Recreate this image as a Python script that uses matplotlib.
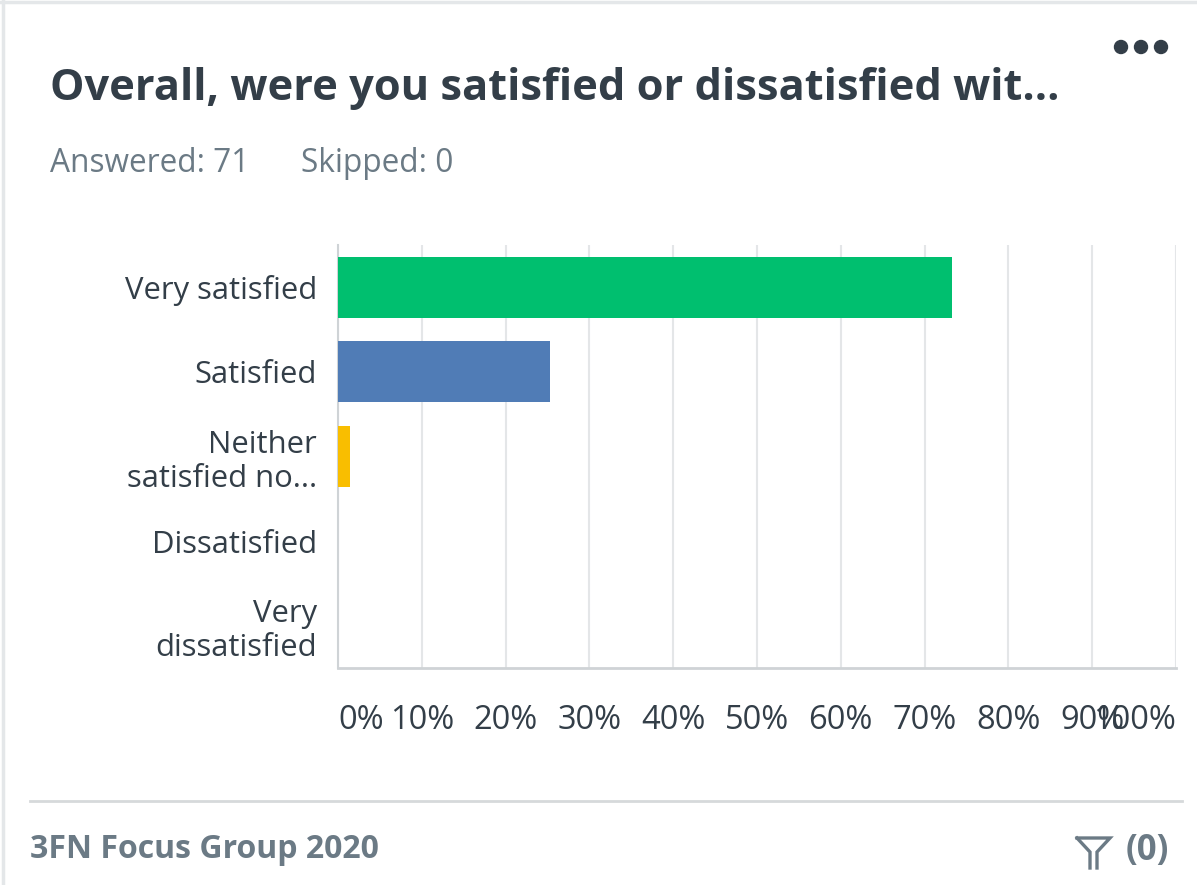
import matplotlib
matplotlib.use("Agg")
import matplotlib.pyplot as plt
from matplotlib.patches import Circle

plt.rcParams['font.family'] = ['Open Sans', 'DejaVu Sans']

# Survey results (share of 71 respondents)
categories = ["Very satisfied", "Satisfied", "Neither\nsatisfied no...",
              "Dissatisfied", "Very\ndissatisfied"]
percentages = [73.24, 25.35, 1.41, 0.0, 0.0]
bar_colors = ["#00bf6f", "#507cb6", "#f9be00", "#d25f90", "#7d6fb3"]
tick_values = [0, 10, 20, 30, 40, 50, 60, 70, 80, 90, 100]
tick_labels = [f"{v}%" for v in tick_values]

W, H = 1197, 885
fig = plt.figure(figsize=(W / 100, H / 100), dpi=100)
fig.patch.set_facecolor("white")

# page-space overlay for card decorations
deco = fig.add_axes([0, 0, 1, 1])
deco.set_xlim(0, W)
deco.set_ylim(H, 0)
deco.axis("off")
deco.plot([3, 3], [0, H], color="#e4e7e9", lw=2.5)
deco.plot([0, W], [2, 2], color="#e4e7e9", lw=2.5)
deco.plot([30, 1182], [801, 801], color="#d6d9db", lw=2)
for cx in (1121, 1141, 1161):
    deco.add_patch(Circle((cx, 47), 6.5, color="#333e48"))
# filter icon
deco.plot([1077, 1110, 1097, 1097], [838, 838, 852, 868], color="#6b7a85",
          lw=2.4, solid_joinstyle="miter")
deco.plot([1077, 1090, 1090], [838, 852, 868], color="#6b7a85", lw=2.4,
          solid_joinstyle="miter")

fig.text(50 / W, 1 - 89 / H, "Overall, were you satisfied or dissatisfied wit...",
         fontsize=31.2, fontweight="bold", color="#333e48", va="center", ha="left")
fig.text(50 / W, 1 - 164 / H, "Answered: 71", fontsize=22.8, color="#6b7a85",
         va="center", ha="left")
fig.text(301 / W, 1 - 164 / H, "Skipped: 0", fontsize=22.8, color="#6b7a85",
         va="center", ha="left")
fig.text(30 / W, 1 - 850 / H, "3FN Focus Group 2020", fontsize=23,
         fontweight="bold", color="#6b7a85", va="center", ha="left")
fig.text(1126 / W, 1 - 851 / H, "(0)", fontsize=25, fontweight="bold",
         color="#6b7a85", va="center", ha="left")

ax = fig.add_axes([338 / W, 1 - 668 / H, (1176 - 338) / W, (668 - 245) / H])
ypos = list(range(len(categories)))
ax.barh(ypos, percentages, height=0.72, color=bar_colors, zorder=3)
ax.set_xlim(0, 100)
ax.set_ylim(len(categories) - 0.5, -0.5)
ax.set_xticks(tick_values)
ax.set_xticklabels(tick_labels)
ax.set_yticks(ypos)
ax.set_yticklabels(categories, linespacing=1.18)
ax.tick_params(axis="y", length=0, labelsize=22.3, colors="#333e48", pad=15)
ax.tick_params(axis="x", length=0, labelsize=23.5, colors="#333e48", pad=26)
ax.grid(axis="x", color="#e4e6e8", lw=1.5, zorder=0)
for side in ("top", "right"):
    ax.spines[side].set_visible(False)
ax.spines["left"].set_color("#cfd3d6")
ax.spines["bottom"].set_color("#cfd3d6")
ax.spines["left"].set_linewidth(1.5)
ax.spines["bottom"].set_linewidth(2)
for lbl in ax.get_yticklabels():
    lbl.set_horizontalalignment("right")
    lbl.set_multialignment("right")
xlbls = ax.get_xticklabels()
xlbls[0].set_horizontalalignment("left")
xlbls[-1].set_horizontalalignment("right")

fig.savefig("out.png", dpi=100, facecolor="white")
